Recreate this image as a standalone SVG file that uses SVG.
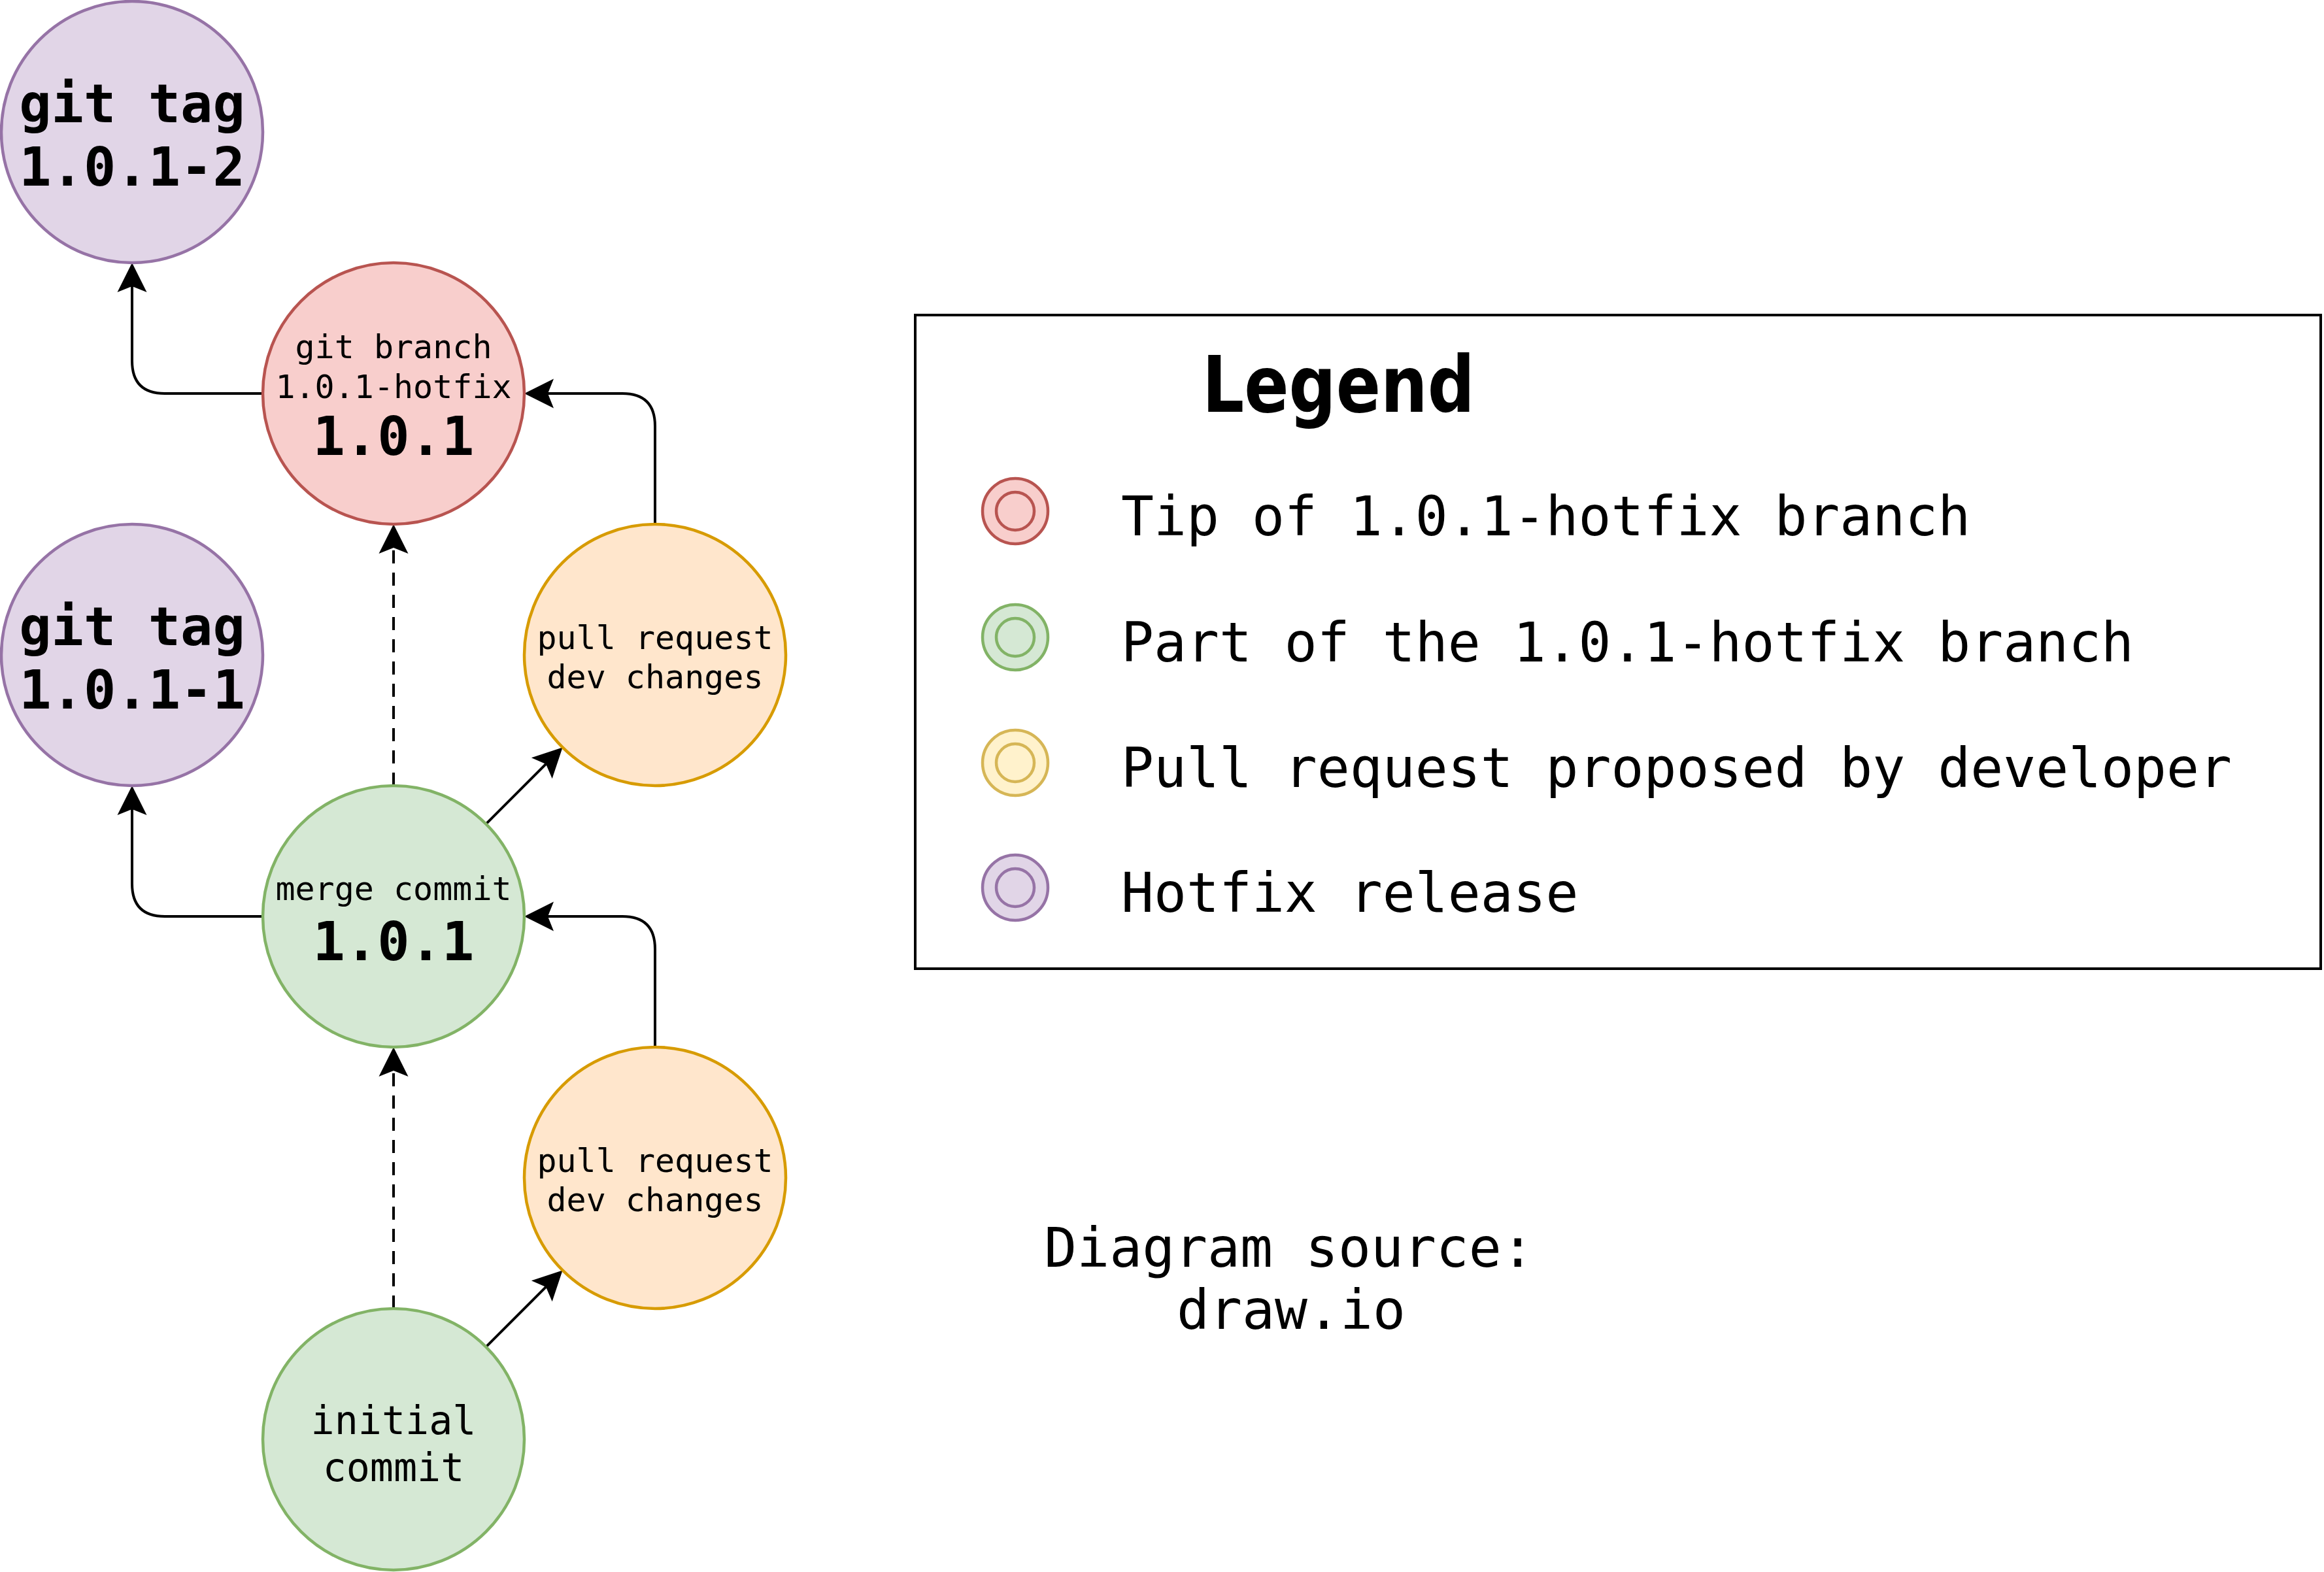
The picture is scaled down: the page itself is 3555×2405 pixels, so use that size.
<svg xmlns="http://www.w3.org/2000/svg" width="3555" height="2405" viewBox="0 0 3555 2405">
  <style>
    .node { stroke-width: 4.5; }
    .purple { fill: #e1d5e7; stroke: #9673a6; }
    .red { fill: #f8cecc; stroke: #b85450; }
    .green { fill: #d5e8d4; stroke: #82b366; }
    .orange { fill: #ffe6cc; stroke: #d79b00; }
    .yellow { fill: #fff2cc; stroke: #d6b656; }
    .mono { font-family: "DejaVu Sans Mono", "Liberation Mono", monospace; fill: #000000; }
    .big { font-size: 82px; font-weight: bold; text-anchor: middle; }
    .small { font-size: 50px; text-anchor: middle; }
    .mid { font-size: 60px; text-anchor: middle; }
    .leg { font-size: 83px; }
    .edge { fill: none; stroke: #000000; stroke-width: 4; }
    .dash { stroke-dasharray: 20 14; }
  </style>
  <defs>
    <marker id="arrow" markerUnits="userSpaceOnUse" markerWidth="50" markerHeight="50" refX="9" refY="0" orient="auto" overflow="visible">
      <path d="M0,-22.5 L45,0 L0,22.5 L9,0 Z" fill="#000000" stroke="none"/>
    </marker>
  </defs>
  <rect width="3555" height="2405" fill="#ffffff"/>

  <g id="connectors">
    <path class="edge" d="M402,602 H252 Q202,602 202,552 V438" marker-end="url(#arrow)"/>
    <path class="edge" d="M402,1402 H252 Q202,1402 202,1352 V1238" marker-end="url(#arrow)"/>
    <path class="edge" d="M1002,802 V652 Q1002,602 952,602 H838" marker-end="url(#arrow)"/>
    <path class="edge" d="M1002,1602 V1452 Q1002,1402 952,1402 H838" marker-end="url(#arrow)"/>
    <path class="edge dash" d="M602,1202 V838" marker-end="url(#arrow)"/>
    <path class="edge dash" d="M602,2002 V1638" marker-end="url(#arrow)"/>
    <path class="edge" d="M743.4,1260.6 L835.1,1168.9" marker-end="url(#arrow)"/>
    <path class="edge" d="M743.4,2060.6 L835.1,1968.9" marker-end="url(#arrow)"/>
  </g>

  <g id="tag-1.0.1-2">
    <circle class="node purple" cx="202" cy="202" r="200"/>
    <text class="mono big" x="202" y="187">git tag</text>
    <text class="mono big" x="202" y="284">1.0.1-2</text>
  </g>
  <g id="branch-1.0.1-hotfix">
    <circle class="node red" cx="602" cy="602" r="200"/>
    <text class="mono small" x="602" y="548">git branch</text>
    <text class="mono small" x="602" y="609">1.0.1-hotfix</text>
    <text class="mono big" x="602" y="696">1.0.1</text>
  </g>
  <g id="tag-1.0.1-1">
    <circle class="node purple" cx="202" cy="1002" r="200"/>
    <text class="mono big" x="202" y="987">git tag</text>
    <text class="mono big" x="202" y="1084">1.0.1-1</text>
  </g>
  <g id="pr-upper">
    <circle class="node orange" cx="1002" cy="1002" r="200"/>
    <text class="mono small" x="1002" y="993">pull request</text>
    <text class="mono small" x="1002" y="1053">dev changes</text>
  </g>
  <g id="merge-commit">
    <circle class="node green" cx="602" cy="1402" r="200"/>
    <text class="mono small" x="602" y="1377">merge commit</text>
    <text class="mono big" x="602" y="1469">1.0.1</text>
  </g>
  <g id="pr-lower">
    <circle class="node orange" cx="1002" cy="1802" r="200"/>
    <text class="mono small" x="1002" y="1793">pull request</text>
    <text class="mono small" x="1002" y="1853">dev changes</text>
  </g>
  <g id="initial-commit">
    <circle class="node green" cx="602" cy="2202" r="200"/>
    <text class="mono mid" x="602" y="2194">initial</text>
    <text class="mono mid" x="602" y="2266">commit</text>
  </g>

  <g id="legend">
    <rect x="1400" y="482" width="2150" height="1000" fill="#ffffff" stroke="#000000" stroke-width="4"/>
    <text x="1839" y="630" font-family="DejaVu Sans, Liberation Sans, sans-serif" font-size="119" font-weight="bold" textLength="417" lengthAdjust="spacingAndGlyphs">Legend</text>
    <circle class="node red" cx="1553" cy="782" r="50"/>
    <circle class="node red" cx="1553" cy="782" r="29"/>
    <text class="mono leg" x="1715" y="819">Tip of 1.0.1-hotfix branch</text>
    <circle class="node green" cx="1553" cy="975" r="50"/>
    <circle class="node green" cx="1553" cy="975" r="29"/>
    <text class="mono leg" x="1715" y="1012">Part of the 1.0.1-hotfix branch</text>
    <circle class="node yellow" cx="1553" cy="1167" r="50"/>
    <circle class="node yellow" cx="1553" cy="1167" r="29"/>
    <text class="mono leg" x="1715" y="1204">Pull request proposed by developer</text>
    <circle class="node purple" cx="1553" cy="1358" r="50"/>
    <circle class="node purple" cx="1553" cy="1358" r="29"/>
    <text class="mono leg" x="1715" y="1395">Hotfix release</text>
  </g>

  <g id="source-note">
    <text class="mono leg" x="1972" y="1938" text-anchor="middle">Diagram source:</text>
    <text class="mono leg" x="1975" y="2033" text-anchor="middle">draw.io</text>
  </g>
</svg>
